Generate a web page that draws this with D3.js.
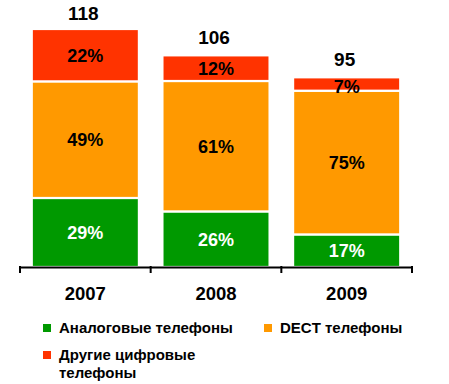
<!DOCTYPE html>
<html>
<head>
<meta charset="utf-8">
<script src="https://cdn.jsdelivr.net/npm/d3@7"></script>
<style>
    body { margin: 0; background: #fff; }
    svg { display: block; font-family: "Liberation Sans", Arial, sans-serif; font-weight: bold; }
</style>
</head>
<body>
<svg id="chart"></svg>
<script>
"use strict";

const width = 449;
const height = 384;

// data
const years = ["2007", "2008", "2009"];
const totals = [118, 106, 95];
const analog_pct = [29, 26, 17];
const dect_pct = [49, 61, 75];
const other_pct = [22, 12, 7];

const series_names = ["Аналоговые телефоны", "DECT телефоны", "Другие цифровые телефоны"];
const series_colors = ["#009900", "#ff9900", "#ff3300"];
const label_colors = ["#ffffff", "#000000", "#000000"];

const x_scale = d3.scaleBand()
    .domain(years)
    .range([20, 412])
    .paddingInner(0.18)
    .paddingOuter(0.09);

const y_scale = d3.scaleLinear()
    .domain([0, 118])
    .range([267, 29]);

const svg = d3.select("#chart")
    .attr("width", width)
    .attr("height", height);

// build stacked segments
const pcts = [analog_pct, dect_pct, other_pct];
const segments = [];
years.forEach((yr, i) => {
    let acc = 0;
    pcts.forEach((p, s) => {
        const v = p[i] * totals[i] / 100;
        segments.push({ year: yr, s: s, pct: p[i], y0: acc, y1: acc + v });
        acc += v;
    });
});

const bars = svg.append("g");
bars.selectAll("rect")
    .data(segments)
    .enter()
    .append("rect")
    .attr("x", d => x_scale(d.year))
    .attr("width", x_scale.bandwidth())
    .attr("y", d => y_scale(d.y1))
    .attr("height", d => y_scale(d.y0) - y_scale(d.y1))
    .attr("fill", d => series_colors[d.s])
    .attr("stroke", "#fff")
    .attr("stroke-width", 2.2);

bars.selectAll("text")
    .data(segments)
    .enter()
    .append("text")
    .attr("x", d => x_scale(d.year) + x_scale.bandwidth() / 2)
    .attr("y", d => (y_scale(d.y0) + y_scale(d.y1)) / 2 + (d.s === 2 && d.pct < 10 ? 2.5 : 0))
    .attr("dy", "0.36em")
    .attr("text-anchor", "middle")
    .attr("font-size", 18)
    .attr("fill", d => label_colors[d.s])
    .text(d => d.pct + "%");

// totals
svg.append("g")
    .selectAll("text")
    .data(years)
    .enter()
    .append("text")
    .attr("x", d => x_scale(d) + x_scale.bandwidth() / 2 - 2)
    .attr("y", (d, i) => y_scale(totals[i]) - 9)
    .attr("text-anchor", "middle")
    .attr("font-size", 19)
    .attr("fill", "#000")
    .text((d, i) => totals[i]);

// axis
const axis = svg.append("g")
    .attr("transform", "translate(0, 267)")
    .call(d3.axisBottom(x_scale).tickSize(0).tickPadding(20).tickSizeOuter(0));
axis.select(".domain").attr("stroke", "#000").attr("stroke-width", 2);
axis.selectAll(".tick text")
    .attr("font-size", 18.5)
    .attr("font-family", "Liberation Sans, Arial, sans-serif")
    .attr("font-weight", "bold")
    .attr("fill", "#000");

// separators between categories
const edges = [20].concat(years.map((y, i) => i < years.length - 1
    ? (x_scale(years[i]) + x_scale.bandwidth() + x_scale(years[i + 1])) / 2 : 412));
svg.append("g")
    .selectAll("line")
    .data(edges)
    .enter()
    .append("line")
    .attr("x1", d => d)
    .attr("x2", d => d)
    .attr("y1", 266)
    .attr("y2", 273)
    .attr("stroke", "#000")
    .attr("stroke-width", 2);

// legend
const legend_items = [
    { x: 43, y: 328, lines: ["Аналоговые телефоны"], s: 0 },
    { x: 264, y: 328, lines: ["DECT телефоны"], s: 1 },
    { x: 43, y: 355, lines: ["Другие цифровые", "телефоны"], s: 2 }
];
const legend = svg.append("g").attr("font-size", 15);
legend_items.forEach(item => {
    legend.append("rect")
        .attr("x", item.x)
        .attr("y", item.y - 4)
        .attr("width", 8)
        .attr("height", 8)
        .attr("fill", series_colors[item.s]);
    const t = legend.append("text")
        .attr("x", item.x + 16)
        .attr("y", item.y)
        .attr("fill", "#000");
    item.lines.forEach((ln, k) => {
        t.append("tspan")
            .attr("x", item.x + 16)
            .attr("dy", k === 0 ? "0.36em" : 18)
            .text(ln);
    });
});
</script>
</body>
</html>
